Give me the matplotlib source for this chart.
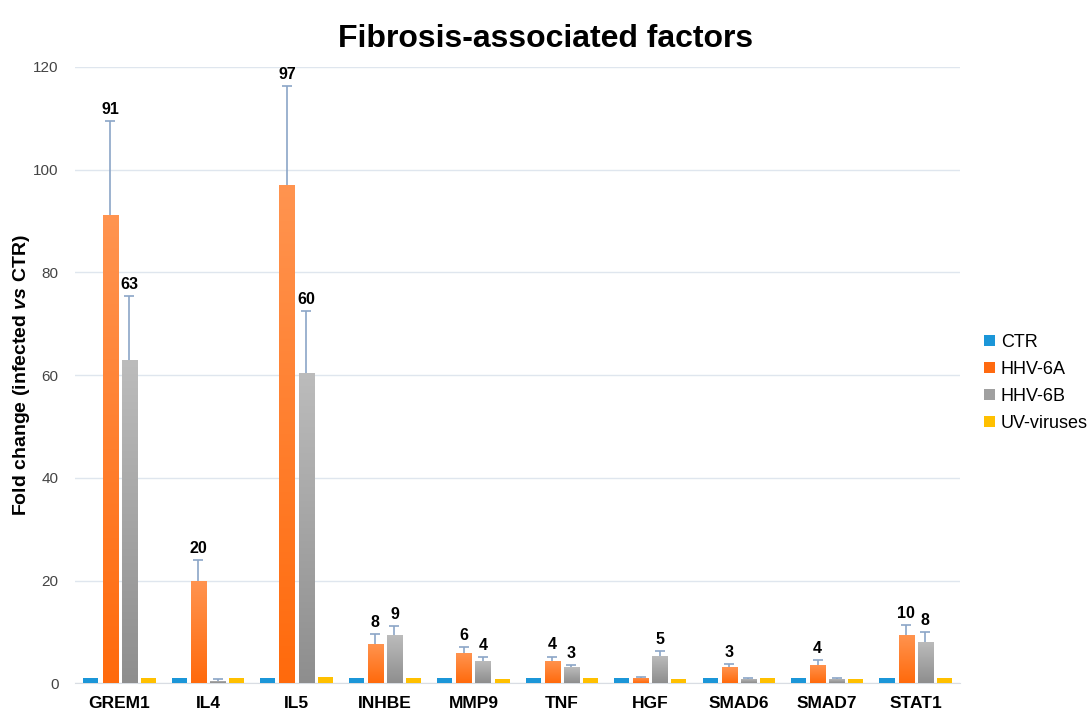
import numpy as np
import matplotlib
matplotlib.use("Agg")
import matplotlib.pyplot as plt
from matplotlib.colors import LinearSegmentedColormap

plt.rcParams['font.family'] = ['Liberation Sans', 'DejaVu Sans']
plt.rcParams['mathtext.fontset'] = 'custom'
plt.rcParams['mathtext.it'] = 'Liberation Sans:italic:bold'
plt.rcParams['mathtext.rm'] = 'Liberation Sans:bold'

# 데이터
genes = ['GREM1', 'IL4', 'IL5', 'INHBE', 'MMP9', 'TNF', 'HGF', 'SMAD6', 'SMAD7', 'STAT1']
ctr = [1, 1, 1, 1, 1, 1, 1, 1, 1, 1]
hhv6a = [91.2, 20.0, 97.0, 7.7, 5.8, 4.3, 1.0, 3.1, 3.6, 9.4]
hhv6a_err = [18.2, 4.0, 19.3, 1.8, 1.2, 0.9, 0.2, 0.7, 0.9, 1.9]
hhv6b = [63.0, 0.5, 60.4, 9.3, 4.3, 3.1, 5.3, 0.8, 0.8, 8.1]
hhv6b_err = [12.4, 0.3, 12.0, 1.9, 0.8, 0.5, 1.0, 0.2, 0.3, 1.8]
uv = [1.0, 1.0, 1.2, 1.0, 0.8, 1.0, 0.8, 1.0, 0.8, 1.0]
labels_6a = ['91', '20', '97', '8', '6', '4', '', '3', '4', '10']
labels_6b = ['63', '', '60', '9', '4', '3', '5', '', '', '8']

x = np.arange(len(genes))
w = 0.17
step = 0.216

fig = plt.figure(figsize=(10.92, 7.11), dpi=100)
ax = fig.add_axes([0.069, 0.039, 0.81, 0.867])

b_ctr = ax.bar(x - 1.5 * step, ctr, w, color='#1b96d8', label='CTR', zorder=3)
b_a = ax.bar(x - 0.5 * step, hhv6a, w, color='#ff6a10', label='HHV-6A', zorder=3)
b_b = ax.bar(x + 0.5 * step, hhv6b, w, color='#a0a0a0', label='HHV-6B', zorder=3)
b_uv = ax.bar(x + 1.5 * step, uv, w, color='#ffc000', label='UV-viruses', zorder=3)

# 막대 그라데이션
def gradient(bars, top, bottom):
    cmap = LinearSegmentedColormap.from_list('g', [bottom, top])
    grad = np.linspace(0, 1, 256).reshape(-1, 1)
    for r in bars:
        bx, by = r.get_x(), r.get_y()
        bw, bh = r.get_width(), r.get_height()
        im = ax.imshow(grad, cmap=cmap, origin='lower', aspect='auto',
                       extent=[bx, bx + bw, by, by + bh], zorder=3.5)
        im.set_clip_path(r)

gradient(b_a, '#ff9450', '#ff6a0c')
gradient(b_b, '#bcbcbc', '#8e8e8e')

# 위쪽 오차막대만
def up_err(xpos, vals, errs):
    tops = np.array(vals) + np.array(errs)
    ax.vlines(xpos, vals, tops, color='#8ba5c7', linewidth=1.2, zorder=4)
    ax.plot(xpos, tops, ls='none', marker='_', markersize=7, mew=1.2, color='#8ba5c7', zorder=4)

up_err(x - 0.5 * step, hhv6a, hhv6a_err)
up_err(x + 0.5 * step, hhv6b, hhv6b_err)

# 값 라벨
for i in range(len(genes)):
    if labels_6a[i]:
        ax.annotate(labels_6a[i], (x[i] - 0.5 * step, hhv6a[i] + hhv6a_err[i]),
                    xytext=(0, 3), textcoords='offset points', ha='center', va='bottom',
                    fontsize=11.5, fontweight='bold')
    if labels_6b[i]:
        ax.annotate(labels_6b[i], (x[i] + 0.5 * step, hhv6b[i] + hhv6b_err[i]),
                    xytext=(0, 3), textcoords='offset points', ha='center', va='bottom',
                    fontsize=11.5, fontweight='bold')

ax.set_xlim(-0.5, len(genes) - 0.5)
ax.set_ylim(0, 120)
ax.set_yticks(range(0, 121, 20))
ax.grid(axis='y', color='#dfe6ee', linewidth=1, zorder=0)
ax.set_axisbelow(True)
for s in ['top', 'right', 'left']:
    ax.spines[s].set_visible(False)
ax.spines['bottom'].set_color('#d9dde3')
ax.tick_params(axis='both', length=0)
ax.tick_params(axis='y', labelsize=11, labelcolor='#444444', pad=12)
ax.set_xticks(x)
ax.set_xticklabels(genes, fontsize=12.5, fontweight='bold')
ax.tick_params(axis='x', pad=9)
ax.set_ylabel(r'Fold change (infected $\it{vs}$ CTR)', fontsize=14, fontweight='bold', labelpad=1)

fig.suptitle('Fibrosis-associated factors', fontsize=23, fontweight='bold', x=0.5, y=0.966)

ax.legend(loc='upper left', bbox_to_anchor=(0.886, 0.553), bbox_transform=fig.transFigure,
          frameon=False, fontsize=13, handlelength=0.6, handleheight=0.6,
          handletextpad=0.35, labelspacing=0.55)

fig.savefig('out.png', dpi=100)
